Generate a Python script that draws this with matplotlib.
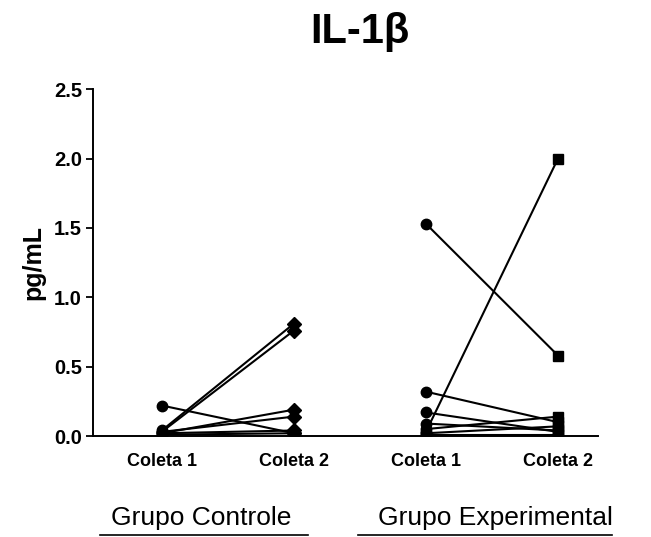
import matplotlib
matplotlib.use("Agg")
import matplotlib.pyplot as plt
from matplotlib.lines import Line2D

plt.rcParams['font.family'] = ['Liberation Sans', 'DejaVu Sans']

# valores (pg/mL)
controle_c1 = [0.22, 0.04, 0.03, 0.02, 0.03, 0.02, 0.01]
controle_c2 = [0.02, 0.81, 0.76, 0.19, 0.14, 0.04, 0.02]
exp_c1 = [1.53, 0.03, 0.32, 0.17, 0.09, 0.05, 0.02, 0.01]
exp_c2 = [0.58, 2.00, 0.10, 0.03, 0.04, 0.14, 0.07, 0.01]
xlabels = ["Coleta 1", "Coleta 2", "Coleta 1", "Coleta 2"]
grupos = ["Grupo Controle", "Grupo Experimental"]
yticks = [0.0, 0.5, 1.0, 1.5, 2.0, 2.5]

fig = plt.figure(figsize=(6.51, 5.37), dpi=100)
ax = fig.add_axes([0.143, 0.188, 0.775, 0.646])

for a, b in zip(controle_c1, controle_c2):
    ax.plot([1, 2], [a, b], color='black', lw=1.5, zorder=2)
    ax.plot(1, a, 'o', color='black', ms=7.5, zorder=3)
    ax.plot(2, b, 'D', color='black', ms=7, zorder=3)

for a, b in zip(exp_c1, exp_c2):
    ax.plot([3, 4], [a, b], color='black', lw=1.5, zorder=2)
    ax.plot(3, a, 'o', color='black', ms=7.5, zorder=3)
    ax.plot(4, b, 's', color='black', ms=7.5, zorder=3)

ax.set_xlim(0.48, 4.3)
ax.set_ylim(0, 2.5)
ax.set_yticks(yticks)
ax.set_yticklabels([f"{t:.1f}" for t in yticks], fontsize=14.5, fontweight='bold')
ax.set_xticks([1, 2, 3, 4])
ax.set_xticklabels(xlabels, fontsize=13, fontweight='bold')
ax.tick_params(axis='x', length=0, pad=12)
ax.tick_params(axis='y', length=5, width=1.3, pad=3)
for s in ['top', 'right']:
    ax.spines[s].set_visible(False)
for s in ['left', 'bottom']:
    ax.spines[s].set_linewidth(1.4)
ax.set_ylabel("pg/mL", fontsize=18, fontweight='bold', labelpad=6)

fig.text(360 / 651, 1 - 32 / 537, "IL-1β", fontsize=30, fontweight='bold', ha='center', va='center')

# rotulos de grupo com linha abaixo
fig.text(201 / 651, 1 - 518 / 537, grupos[0], fontsize=19, ha='center', va='center')
fig.text(495 / 651, 1 - 518 / 537, grupos[1], fontsize=19, ha='center', va='center')
y_line = 1 - 535 / 537
fig.add_artist(Line2D([100 / 651, 308 / 651], [y_line, y_line], color='black', lw=1.2))
fig.add_artist(Line2D([358 / 651, 612 / 651], [y_line, y_line], color='black', lw=1.2))

fig.savefig("out.png", dpi=100)
